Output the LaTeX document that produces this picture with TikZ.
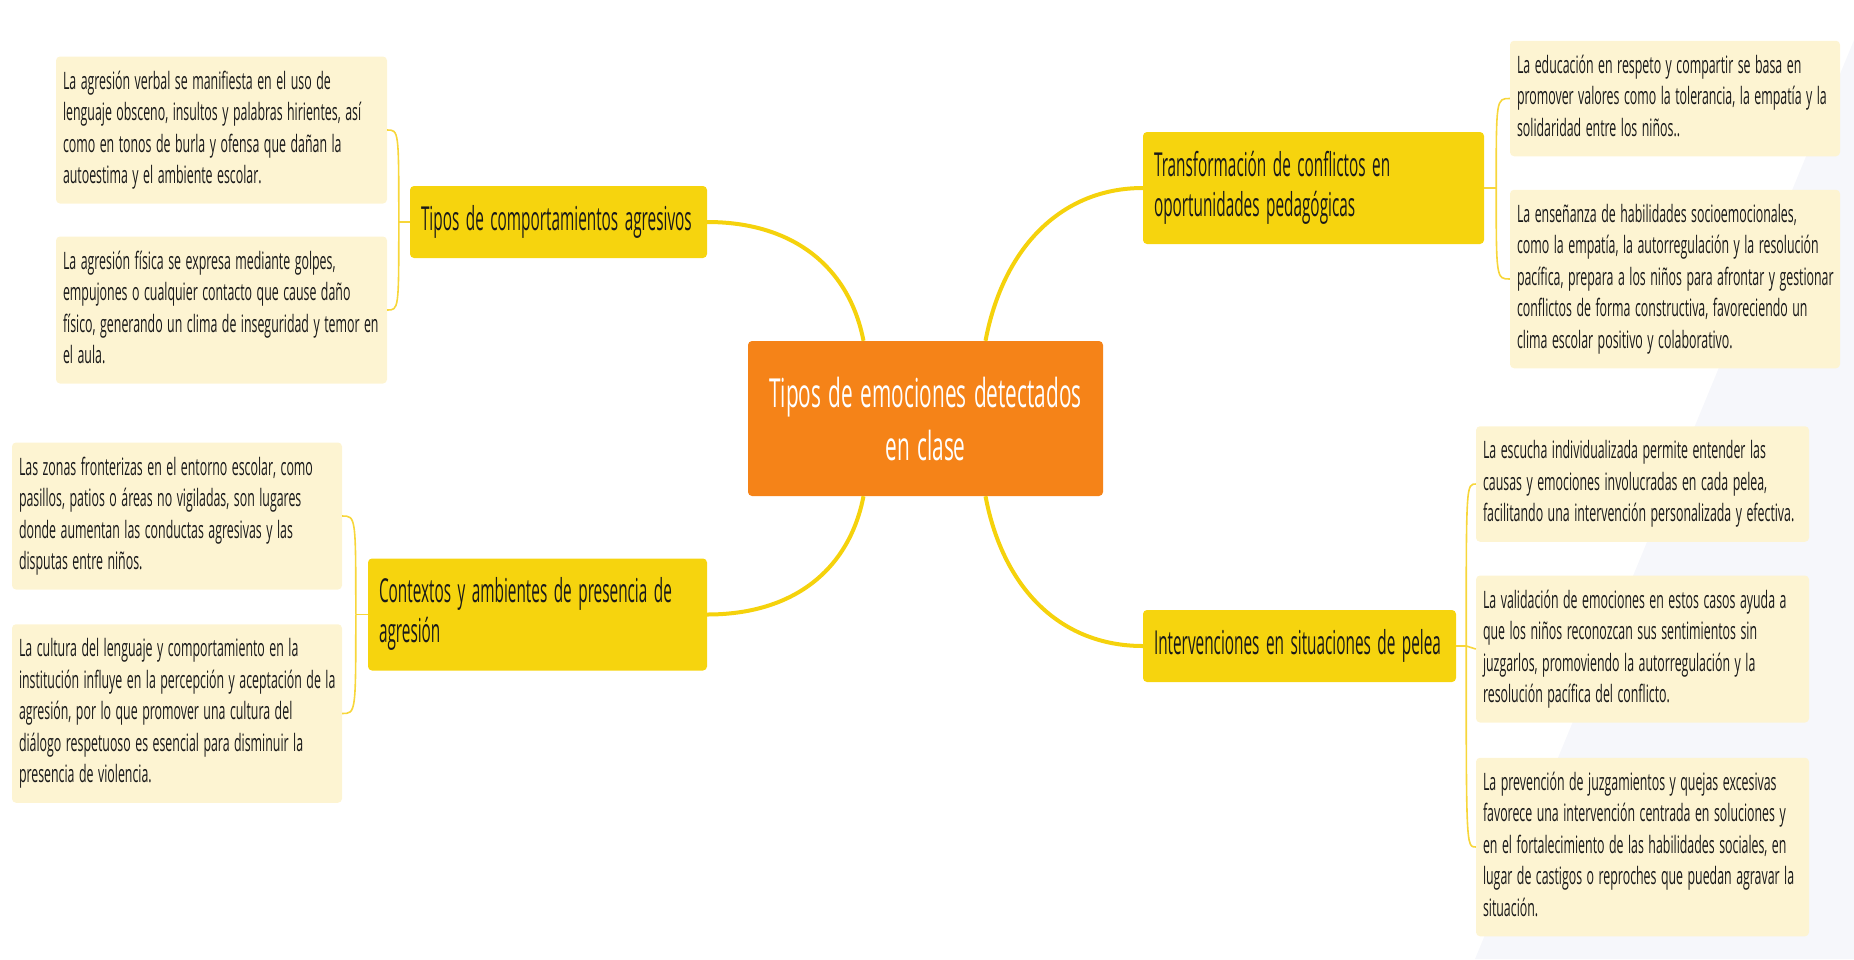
\documentclass[tikz,border=0pt]{standalone}
\usepackage{fontspec}
\setmainfont{Open Sans}[FakeStretch=0.515]
\newfontfamily\limbfont{Open Sans}[FakeStretch=0.465]
\newfontfamily\corefont{Open Sans}[FakeStretch=0.52, WordSpace=1.4]
\usetikzlibrary{calc}

\definecolor{coreorange}{HTML}{F58318}
\definecolor{limbyellow}{HTML}{F6D40E}
\definecolor{leafcream}{HTML}{FDF4D2}
\definecolor{stemyellow}{HTML}{F5D20C}
\definecolor{twigyellow}{HTML}{F7D63A}
\definecolor{haze}{HTML}{F6F7FB}

% rows that keep their own line breaks
\newcommand{\leafrows}[1]{\begin{tabular}{@{}l@{}}#1\end{tabular}}
% tighter word gaps
\newcommand{\leafgap}{\spaceskip=4.5pt plus 1pt\relax}
\newcommand{\limbgap}{\spaceskip=6.5pt plus 1pt\relax}

\tikzset{
  core/.style={fill=coreorange, text=white, rounded corners=4pt, align=center,
    minimum width=355pt, minimum height=155pt, font=\corefont\fontsize{40}{53}\selectfont},
  limb/.style={fill=limbyellow, text=black!90, rounded corners=4pt, align=left,
    inner xsep=11pt, inner ysep=16pt, font=\limbfont\fontsize{33}{40}\selectfont,
    execute at begin node=\limbgap},
  leaf/.style={fill=leafcream, text=black!90, rounded corners=4pt, align=left,
    inner xsep=7pt, inner ysep=10.5pt, text width=317pt, font=\fontsize{24}{31.5}\selectfont,
    execute at begin node=\leafgap},
  stem/.style={draw=stemyellow, line width=4pt},
  twig/.style={draw=twigyellow, line width=1.6pt}
}

\begin{document}
\begin{tikzpicture}[x=1pt, y=-1pt]
\useasboundingbox (0,0) rectangle (1854,959);
\fill[haze] (1854,40) -- (1475,959) -- (1854,959) -- cycle;

% centre and main branches
\node[core] (core) at (925.5,418.5) {Tipos de emociones detectados\\en clase};
\node[limb, text width=275pt] (agres) at (558.5,222) {\leafrows{Tipos de comportamientos agresivos}};
\node[limb, text width=317pt] (contex) at (537.5,614.5) {\leafrows{Contextos y ambientes de presencia de\\agresión}};
\node[limb, text width=319pt] (transf) at (1313.5,188) {\leafrows{Transformación de conflictos en\\oportunidades pedagógicas}};
\node[limb, text width=291pt] (interv) at (1299.5,646) {\leafrows{Intervenciones en situaciones de pelea}};

% left leaves
\node[leaf] (verbal) at (221.5,130) {\leafrows{La agresión verbal se manifiesta en el uso de\\lenguaje obsceno, insultos y palabras hirientes, así\\como en tonos de burla y ofensa que dañan la\\autoestima y el ambiente escolar.}};
\node[leaf] (fisica) at (221.5,310) {\leafrows{La agresión física se expresa mediante golpes,\\empujones o cualquier contacto que cause daño\\físico, generando un clima de inseguridad y temor en\\el aula.}};
\node[leaf, text width=316pt] (zonas) at (177,516) {\leafrows{Las zonas fronterizas en el entorno escolar, como\\pasillos, patios o áreas no vigiladas, son lugares\\donde aumentan las conductas agresivas y las\\disputas entre niños.}};
\node[leaf, text width=316pt] (cultura) at (177,713.5) {\leafrows{La cultura del lenguaje y comportamiento en la\\institución influye en la percepción y aceptación de la\\agresión, por lo que promover una cultura del\\diálogo respetuoso es esencial para disminuir la\\presencia de violencia.}};

% right leaves
\node[leaf, text width=316pt] (educa) at (1675,98.5) {\leafrows{La educación en respeto y compartir se basa en\\promover valores como la tolerancia, la empatía y la\\solidaridad entre los niños..}};
\node[leaf, text width=316pt] (ensena) at (1675,279) {\leafrows{La enseñanza de habilidades socioemocionales,\\como la empatía, la autorregulación y la resolución\\pacífica, prepara a los niños para afrontar y gestionar\\conflictos de forma constructiva, favoreciendo un\\clima escolar positivo y colaborativo.}};
\node[leaf, text width=319pt] (escucha) at (1642.5,484) {\leafrows{La escucha individualizada permite entender las\\causas y emociones involucradas en cada pelea,\\facilitando una intervención personalizada y efectiva.}};
\node[leaf, text width=319pt] (valida) at (1642.5,649) {\leafrows{La validación de emociones en estos casos ayuda a\\que los niños reconozcan sus sentimientos sin\\juzgarlos, promoviendo la autorregulación y la\\resolución pacífica del conflicto.}};
\node[leaf, text width=319pt] (preven) at (1642.5,847) {\leafrows{La prevención de juzgamientos y quejas excesivas\\favorece una intervención centrada en soluciones y\\en el fortalecimiento de las habilidades sociales, en\\lugar de castigos o reproches que puedan agravar la\\situación.}};

% thick stems from the centre
\draw[stem] ($(core.north)+(-62,0)$) .. controls +(-14,-72) and +(88,0) .. (agres.east);
\draw[stem] ($(core.north)+(60,0)$) .. controls +(18,-95) and +(-80,0) .. (transf.west);
\draw[stem] ($(core.south)+(-62,0)$) .. controls +(-14,72) and +(88,0) .. (contex.east);
\draw[stem] ($(core.south)+(60,0)$) .. controls +(18,95) and +(-80,0) .. (interv.west);

% thin twigs to the leaves
\draw[twig] (agres.west) -- ++(-11,0) coordinate (kAgres);
\draw[twig] (kAgres) .. controls (kAgres |- verbal.east) .. (verbal.east);
\draw[twig] (kAgres) .. controls (kAgres |- fisica.east) .. (fisica.east);
\draw[twig] (contex.west) -- ++(-12,0) coordinate (kContex);
\draw[twig] (kContex) .. controls (kContex |- zonas.east) .. (zonas.east);
\draw[twig] (kContex) .. controls (kContex |- cultura.east) .. (cultura.east);
\draw[twig] (transf.east) -- ++(12,0) coordinate (kTransf);
\draw[twig] (kTransf) .. controls (kTransf |- educa.west) .. (educa.west);
\draw[twig] (kTransf) .. controls (kTransf |- ensena.west) .. (ensena.west);
\draw[twig] (interv.east) -- ++(10,0) coordinate (kInterv);
\draw[twig] (kInterv) .. controls (kInterv |- escucha.west) .. (escucha.west);
\draw[twig] (kInterv) -- (valida.west);
\draw[twig] (kInterv) .. controls (kInterv |- preven.west) .. (preven.west);
\end{tikzpicture}
\end{document}
